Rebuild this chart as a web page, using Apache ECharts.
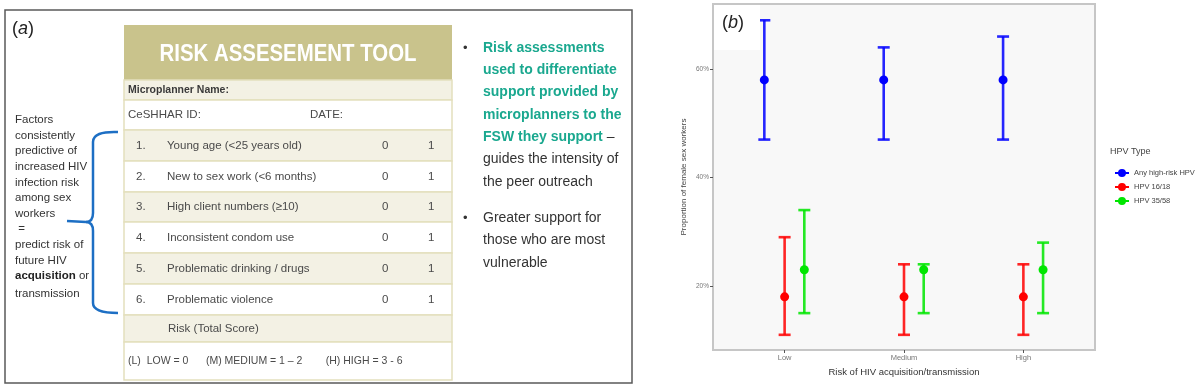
<!DOCTYPE html>
<html>
<head>
<meta charset="utf-8">
<script src="https://cdn.jsdelivr.net/npm/echarts@6/dist/echarts.min.js"></script>
<style>
  html, body { margin: 0; padding: 0; background: #fff; }
  #chart { width: 1200px; height: 389px; }
</style>
</head>
<body>
<div id="chart"></div>
<script>
// ---- panel (b) data: proportion of FSW (%) by HIV risk group ----
const categories = ['Low', 'Medium', 'High']
const hpvTypes = ['Any high-risk HPV', 'HPV 16/18', 'HPV 35/58']
const anyHrEst = [58, 58, 58]
const anyHrLow = [47, 47, 47]
const anyHrHigh = [69, 64, 66]
const hpv1618Est = [18, 18, 18]
const hpv1618Low = [11, 11, 11]
const hpv1618High = [29, 24, 24]
const hpv3558Est = [23, 23, 23]
const hpv3558Low = [15, 15, 15]
const hpv3558High = [34, 24, 28]
const yTicks = [20, 40, 60]

// ---- panel (a) texts ----
const riskFactors = [
  'Young age (<25 years old)',
  'New to sex work (<6 months)',
  'High client numbers (\u226510)',
  'Inconsistent condom use',
  'Problematic drinking / drugs',
  'Problematic violence'
]
const scoreValues = ['0', '1']
const factorNote = [
  'Factors', 'consistently', 'predictive of', 'increased HIV', 'infection risk',
  'among sex', 'workers', ' =', 'predict risk of', 'future HIV'
]

const colors = ['#0000ff', '#ff0000', '#00e600']
const dodge = [-0.17, 0, 0.165]
const estimates = [anyHrEst, hpv1618Est, hpv3558Est]
const lows = [anyHrLow, hpv1618Low, hpv3558Low]
const highs = [anyHrHigh, hpv1618High, hpv3558High]

const font = '"Liberation Sans", Arial, sans-serif'
const teal = '#1aa88f'
const tan = '#c9c38c'
const beige = '#f3f1e4'
const rule = '#e4dfbd'

// ---- build graphic elements for panel (a) ----
const g = []
g.push({ type: 'rect', shape: { x: 5, y: 10, width: 627, height: 373 }, style: { fill: '#fff', stroke: '#5a5a5a', lineWidth: 1.5 } })
g.push({ type: 'text', x: 12, y: 20, style: { text: '({i|a})', font: '18px ' + font, fill: '#222', rich: { i: { fontStyle: 'italic', fontSize: 18 } } } })

// table
const tx = 124, tw = 328
g.push({ type: 'rect', shape: { x: tx, y: 25, width: tw, height: 55 }, style: { fill: tan } })
g.push({ type: 'text', x: 288, y: 54, scaleX: 0.85, originX: 0, originY: 0,
  style: { text: 'RISK ASSESEMENT TOOL', font: 'bold 24px ' + font, fill: '#fff', align: 'center', verticalAlign: 'middle' } })
const rowTops = [80, 100, 130, 161, 192, 222, 253, 284, 315, 342, 380]
rowTops.slice(0, -1).forEach((y, i) => {
  g.push({ type: 'rect', shape: { x: tx, y: y, width: tw, height: rowTops[i + 1] - y },
    style: { fill: i % 2 === 0 ? beige : '#fff', stroke: rule, lineWidth: 1.5 } })
})
const mid = i => (rowTops[i] + rowTops[i + 1]) / 2
const txt = (s, x, y, opt) => Object.assign({ type: 'text', x: x, y: y, z: 5,
  style: Object.assign({ text: s, font: '11.5px ' + font, fill: '#4a4a4a', verticalAlign: 'middle' }, opt || {}) })
g.push(txt('Microplanner Name:', 128, mid(0), { font: 'bold 10.5px ' + font, fill: '#3a3a3a' }))
g.push(txt('CeSHHAR ID:', 128, mid(1)))
g.push(txt('DATE:', 310, mid(1)))
riskFactors.forEach((f, i) => {
  const y = mid(i + 2)
  g.push(txt((i + 1) + '.', 136, y))
  g.push(txt(f, 167, y))
  g.push(txt(scoreValues[0], 382, y))
  g.push(txt(scoreValues[1], 428, y))
})
g.push(txt('Risk (Total Score)', 168, mid(8)))
g.push(txt('(L)  LOW = 0      (M) MEDIUM = 1 \u2013 2        (H) HIGH = 3 - 6', 128, mid(9), { font: '10.5px ' + font }))

// left note + brace
factorNote.forEach((s, i) => {
  g.push(txt(s, 15, 120 + i * 15.6, { fill: '#333' }))
})
g.push(txt('{b|acquisition} or', 15, 120 + 10 * 15.6, { fill: '#333', rich: { b: { fontWeight: 'bold', fontSize: 11.5, fill: '#222' } } }))
g.push(txt('transmission', 15, 120 + 11 * 15.8, { fill: '#333' }))
const brace = { stroke: '#1d6fc4', lineWidth: 2.5, fill: 'none' }
g.push({ type: 'bezierCurve', z: 5, shape: { x1: 118, y1: 132, cpx1: 93, cpy1: 131, x2: 93, y2: 142 }, style: brace })
g.push({ type: 'line', z: 5, shape: { x1: 93, y1: 142, x2: 93, y2: 213 }, style: brace })
g.push({ type: 'bezierCurve', z: 5, shape: { x1: 93, y1: 213, cpx1: 93, cpy1: 222, x2: 86, y2: 222 }, style: brace })
g.push({ type: 'line', z: 5, shape: { x1: 86, y1: 222, x2: 67, y2: 221 }, style: brace })
g.push({ type: 'bezierCurve', z: 5, shape: { x1: 86, y1: 222, cpx1: 93, cpy1: 222, x2: 93, y2: 231 }, style: brace })
g.push({ type: 'line', z: 5, shape: { x1: 93, y1: 231, x2: 93, y2: 303 }, style: brace })
g.push({ type: 'bezierCurve', z: 5, shape: { x1: 93, y1: 303, cpx1: 93, cpy1: 313, x2: 118, y2: 313 }, style: brace })

// bullet notes
const bl = [
  '{t|Risk assessments}', '{t|used to differentiate}', '{t|support provided by}',
  '{t|microplanners to the}', '{t|FSW they support} \u2013', 'guides the intensity of',
  'the peer outreach'
]
bl.forEach((l, i) => {
  g.push(txt(l, 483, 48 + i * 22.3, { font: '14px ' + font, fill: '#333', rich: { t: { fontWeight: 'bold', fontSize: 14, fill: teal } } }))
})
;['Greater support for', 'those who are most', 'vulnerable'].forEach((s, i) => {
  g.push(txt(s, 483, 218 + i * 22.5, { font: '14px ' + font, fill: '#333' }))
})
g.push(txt('\u2022', 463, 48, { font: '13px ' + font, fill: '#333' }))
g.push(txt('\u2022', 463, 218, { font: '13px ' + font, fill: '#333' }))

// panel (b) decorations
g.push({ type: 'rect', z: 5, shape: { x: 714, y: 5, width: 46, height: 45 }, style: { fill: '#fff' } })
g.push({ type: 'text', z: 6, x: 722, y: 14, style: { text: '({i|b})', font: '18px ' + font, fill: '#222', rich: { i: { fontStyle: 'italic', fontSize: 18 } } } })
g.push({ type: 'text', z: 6, x: 1110, y: 152, style: { text: 'HPV Type', font: '9px ' + font, fill: '#444', verticalAlign: 'middle' } })

// ---- series ----
const series = []
hpvTypes.forEach((name, k) => {
  series.push({
    name: name,
    type: 'custom',
    z: 3,
    itemStyle: { color: colors[k] },
    renderItem: (params, api) => {
      const top = api.coord([api.value(0), api.value(2)])
      const bot = api.coord([api.value(0), api.value(1)])
      const st = { stroke: colors[k], lineWidth: 2.6, opacity: 0.85 }
      return {
        type: 'group',
        children: [
          { type: 'line', shape: { x1: top[0], y1: top[1], x2: bot[0], y2: bot[1] }, style: st },
          { type: 'line', shape: { x1: top[0] - 6, y1: top[1], x2: top[0] + 6, y2: top[1] }, style: st },
          { type: 'line', shape: { x1: bot[0] - 6, y1: bot[1], x2: bot[0] + 6, y2: bot[1] }, style: st }
        ]
      }
    },
    data: categories.map((c, i) => [i + 1 + dodge[k], lows[k][i], highs[k][i]])
  })
  series.push({
    name: name,
    type: 'scatter',
    z: 4,
    symbolSize: 9,
    itemStyle: { color: colors[k], opacity: 1 },
    data: categories.map((c, i) => [i + 1 + dodge[k], estimates[k][i]])
  })
})

const legendIcon = 'path://M0,4 L14,4 L14,6 L0,6 Z M7,1 A4,4 0 1 1 6.99,1 Z'

const chart = echarts.init(document.getElementById('chart'))
chart.setOption({
  animation: false,
  textStyle: { fontFamily: font },
  grid: {
    left: 713, top: 4, width: 382, height: 346,
    show: true, backgroundColor: '#f8f8f8', borderColor: '#c6c6c6', borderWidth: 2
  },
  legend: {
    orient: 'vertical', left: 1110, top: 164, itemGap: 6, itemWidth: 14, itemHeight: 9,
    icon: legendIcon,
    data: hpvTypes,
    textStyle: { fontSize: 7.5, color: '#444' }
  },
  xAxis: {
    type: 'value', min: 0.4, max: 3.6,
    name: 'Risk of HIV acquisition/transmission', nameLocation: 'middle', nameGap: 17,
    nameTextStyle: { fontSize: 9.5, color: '#333' },
    axisLine: { show: false },
    splitLine: { show: false },
    axisTick: { show: true, customValues: [1, 2, 3], length: 3, lineStyle: { color: '#555' } },
    axisLabel: { customValues: [1, 2, 3], formatter: v => categories[Math.round(v) - 1], fontSize: 7.5, color: '#777', margin: 4 }
  },
  yAxis: {
    type: 'value', min: 8.2, max: 72,
    name: 'Proportion of female sex workers', nameLocation: 'middle', nameGap: 25,
    nameTextStyle: { fontSize: 8, color: '#444' },
    axisLine: { show: false },
    splitLine: { show: false },
    axisTick: { show: true, customValues: yTicks, length: 3, lineStyle: { color: '#555' } },
    axisLabel: { customValues: yTicks, formatter: '{value}%', fontSize: 6.5, color: '#777', margin: 4 }
  },
  graphic: { elements: g },
  series: series
})
</script>
</body>
</html>
